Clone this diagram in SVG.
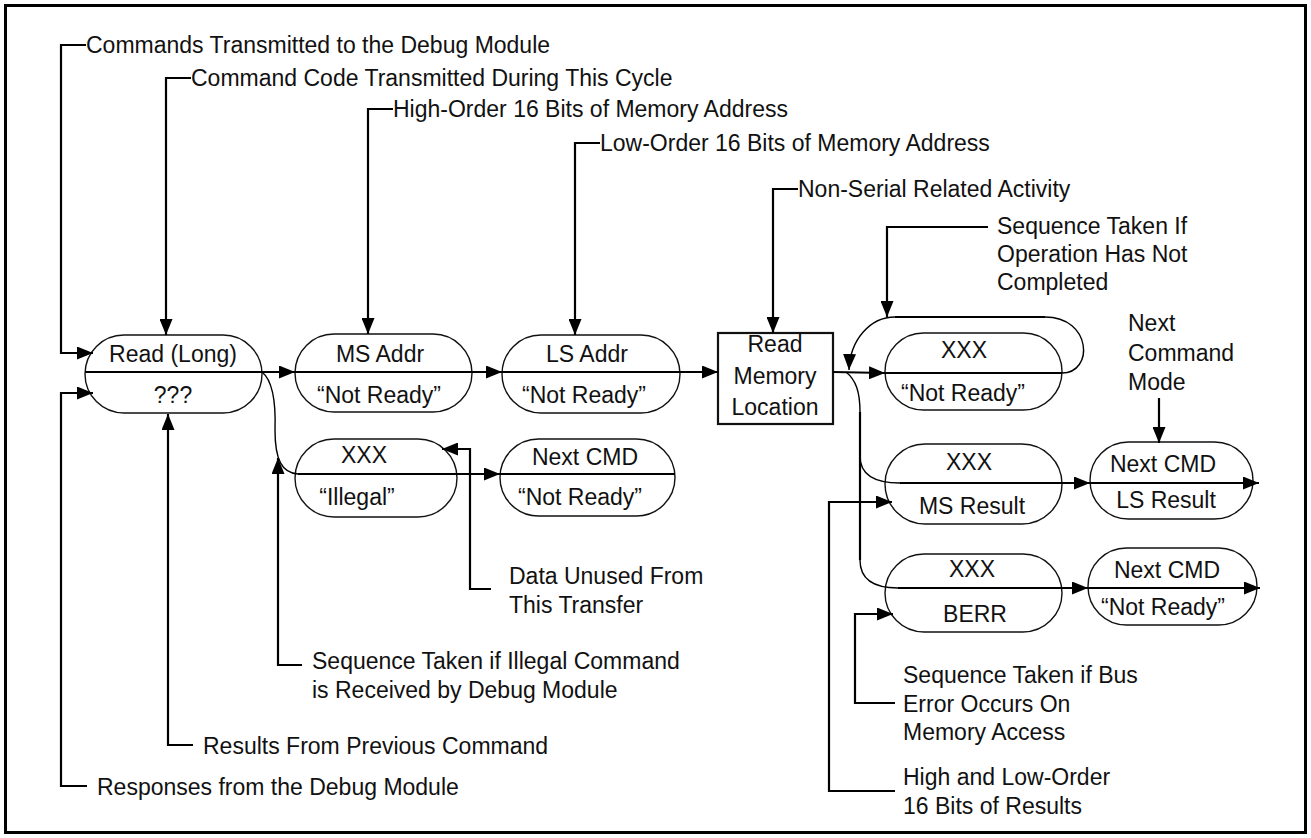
<svg xmlns="http://www.w3.org/2000/svg" width="1311" height="838" viewBox="0 0 1311 838">
<style>
text{font-family:"Liberation Sans",Arial,Helvetica,sans-serif;font-size:23px;fill:#111}
.n{fill:#fff;stroke:#111;stroke-width:1.4}
.b{fill:#fff;stroke:#111;stroke-width:2.2}
.c{fill:none;stroke:#000;stroke-width:2.2}
.cl{fill:none;stroke:#000;stroke-width:1.4}
.m{text-anchor:middle}
</style>
<defs>
<marker id="a" markerUnits="userSpaceOnUse" markerWidth="17" markerHeight="13" refX="16" refY="6.5" orient="auto">
<path d="M0,0 L16,6.5 L0,13 z" fill="#000"/>
</marker>
</defs>
<rect x="5.5" y="5.5" width="1300" height="827" fill="#fff" stroke="#000" stroke-width="3"/>

<g id="n-read-long"><rect class="n" x="85" y="335" width="177" height="78" rx="39"/><text class="m" x="173" y="362">Read (Long)</text><text class="m" x="173" y="403">???</text></g>
<g id="n-ms-addr"><rect class="n" x="295" y="334" width="177" height="78" rx="39"/><text class="m" x="380" y="362">MS Addr</text><text class="m" x="379" y="403">“Not Ready”</text></g>
<g id="n-ls-addr"><rect class="n" x="502" y="335" width="178" height="78" rx="39"/><text class="m" x="587" y="362">LS Addr</text><text class="m" x="584" y="403">“Not Ready”</text></g>
<g id="n-read-mem"><rect class="b" x="718" y="333" width="115" height="91"/><text class="m" x="775" y="352">Read</text><text class="m" x="775" y="384">Memory</text><text class="m" x="775" y="415">Location</text></g>
<g id="n-xxx-wait"><rect class="n" x="885" y="333" width="177" height="77" rx="38.5"/><text class="m" x="964" y="358">XXX</text><text class="m" x="963" y="401">“Not Ready”</text></g>
<g id="n-xxx-illegal"><rect class="n" x="295" y="439" width="162" height="78" rx="39"/><text class="m" x="364" y="463">XXX</text><text class="m" x="357" y="505">“Illegal”</text></g>
<g id="n-next-illegal"><rect class="n" x="500" y="439" width="175" height="77" rx="38.5"/><text class="m" x="585" y="465">Next CMD</text><text class="m" x="580" y="505">“Not Ready”</text></g>
<g id="n-xxx-ms"><rect class="n" x="885" y="444" width="177" height="80" rx="40"/><text class="m" x="969" y="470">XXX</text><text class="m" x="972" y="514">MS Result</text></g>
<g id="n-next-ls"><rect class="n" x="1090" y="442" width="163" height="77" rx="38.5"/><text class="m" x="1163" y="472">Next CMD</text><text class="m" x="1166" y="508">LS Result</text></g>
<g id="n-xxx-berr"><rect class="n" x="885" y="554" width="177" height="78" rx="39"/><text class="m" x="972" y="577">XXX</text><text class="m" x="975" y="622">BERR</text></g>
<g id="n-next-berr"><rect class="n" x="1088" y="548" width="169" height="77" rx="38.5"/><text class="m" x="1167" y="578">Next CMD</text><text class="m" x="1163" y="615">“Not Ready”</text></g>

<g id="connectors">
<path class="c" d="M85,372 L295,372" marker-end="url(#a)"/>
<path class="c" d="M295,372 L502,372" marker-end="url(#a)"/>
<path class="c" d="M502,372 L718,372" marker-end="url(#a)"/>
<path class="c" d="M833,372 L885,373" marker-end="url(#a)"/>
<path class="c" d="M885,373 L1062,373"/>
<path class="cl" d="M1062,373 C1094,373 1092,317 1045,317"/>
<path class="c" d="M1045,317 L895,317"/>
<path class="cl" d="M895,317 C870,317 850,340 849,370" marker-end="url(#a)"/>
<path class="cl" d="M262,372 C272,380 276,400 275,430 C275,460 282,473 298,474"/>
<path class="c" d="M298,474 L500,474" marker-end="url(#a)"/>
<path class="c" d="M500,474 L675,474"/>
<path class="cl" d="M846,372 C856,380 860,392 860,412"/>
<path class="c" d="M860,412 L860,560"/>
<path class="cl" d="M860,560 Q860,588 898,588"/>
<path class="c" d="M898,588 L1088,588" marker-end="url(#a)"/>
<path class="c" d="M1088,588 L1260,588" marker-end="url(#a)"/>
<path class="cl" d="M860,456 Q860,483 900,483"/>
<path class="c" d="M900,483 L1090,483" marker-end="url(#a)"/>
<path class="c" d="M1090,483 L1259,483" marker-end="url(#a)"/>
<path class="c" d="M86,45 L61,45 L61,353 L93,353" marker-end="url(#a)"/>
<path class="c" d="M87,786 L61,786 L61,393 L93,393" marker-end="url(#a)"/>
<path class="c" d="M191,78 L166,78 L166,335" marker-end="url(#a)"/>
<path class="c" d="M193,745 L168,745 L168,414" marker-end="url(#a)"/>
<path class="c" d="M393,109 L368,109 L368,334" marker-end="url(#a)"/>
<path class="c" d="M600,143 L575,143 L575,335" marker-end="url(#a)"/>
<path class="c" d="M798,189 L773,189 L773,333" marker-end="url(#a)"/>
<path class="c" d="M988,227 L887,227 L887,317" marker-end="url(#a)"/>
<path class="c" d="M1159,398 L1159,443" marker-end="url(#a)"/>
<path class="c" d="M302,665 L278,665 L278,458" marker-end="url(#a)"/>
<path class="c" d="M491,589 L470,589 L470,449 L442,449" marker-end="url(#a)"/>
<path class="c" d="M895,703 L855,703 L855,614 L893,614" marker-end="url(#a)"/>
<path class="c" d="M895,791 L829,791 L829,502 L892,502" marker-end="url(#a)"/>
</g>

<g id="labels">
<text x="86" y="53">Commands Transmitted to the Debug Module</text>
<text x="191" y="86">Command Code Transmitted During This Cycle</text>
<text x="393" y="117">High-Order 16 Bits of Memory Address</text>
<text x="600" y="151">Low-Order 16 Bits of Memory Address</text>
<text x="798" y="197">Non-Serial Related Activity</text>
<text x="997" y="234">Sequence Taken If</text>
<text x="997" y="262">Operation Has Not</text>
<text x="997" y="290">Completed</text>
<text x="1128" y="331">Next</text>
<text x="1128" y="361">Command</text>
<text x="1128" y="390">Mode</text>
<text x="509" y="584">Data Unused From</text>
<text x="509" y="613">This Transfer</text>
<text x="312" y="669">Sequence Taken if Illegal Command</text>
<text x="312" y="698">is Received by Debug Module</text>
<text x="203" y="754">Results From Previous Command</text>
<text x="97" y="795">Responses from the Debug Module</text>
<text x="903" y="683">Sequence Taken if Bus</text>
<text x="903" y="712">Error Occurs On</text>
<text x="903" y="740">Memory Access</text>
<text x="903" y="785">High and Low-Order</text>
<text x="903" y="814">16 Bits of Results</text>
</g>
</svg>
